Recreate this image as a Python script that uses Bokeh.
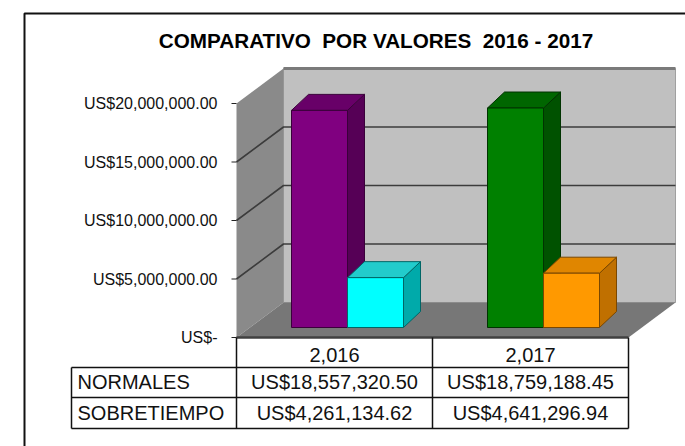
from bokeh.plotting import figure
from bokeh.models import Range1d, ColumnDataSource
from bokeh.core.properties import value
from bokeh.embed import file_html
from bokeh.resources import INLINE

# ---------------- data ----------------
title = "COMPARATIVO \u00a0POR VALORES \u00a02016 - 2017"
years = ["2,016", "2,017"]
series_names = ["NORMALES", "SOBRETIEMPO"]
normales = [18557320.50, 18759188.45]
sobretiempo = [4261134.62, 4641296.94]
normales_txt = ["US$18,557,320.50", "US$18,759,188.45"]
sobretiempo_txt = ["US$4,261,134.62", "US$4,641,296.94"]
ticks = [0, 5000000, 10000000, 15000000, 20000000]
tick_labels = ["US$-", "US$5,000,000.00", "US$10,000,000.00",
               "US$15,000,000.00", "US$20,000,000.00"]

# colours per bar (year, series): front, top, side, outline
bar_styles = [
    [("#800080", "#680068", "#560056", "#3a003a"),
     ("#00ffff", "#22cccc", "#00aaaa", "#006666")],
    [("#008000", "#006600", "#005200", "#003300"),
     ("#ff9900", "#e08600", "#c07000", "#7a4700")],
]

# ---------------- geometry (pixel styling) ----------------
W, H = 685, 446
AX0 = 236          # canvas x of category origin
CATW = 196         # px per category
Y0 = 337           # canvas y of value 0
PXM = 11.7         # px per million


def X(px):
    return px / CATW


def Y(px):
    return px / PXM * 1e6


p = figure(width=W, height=H, output_backend="svg", toolbar_location=None,
           x_range=Range1d(-AX0 / CATW, (W - AX0) / CATW),
           y_range=Range1d(-(H - Y0) / PXM * 1e6, Y0 / PXM * 1e6),
           min_border=0, x_axis_type=None, y_axis_type=None)
p.grid.visible = False
p.outline_line_color = None
p.background_fill_color = "white"
p.border_fill_color = "white"

ncat = len(years)
vmax = ticks[-1]
wdx, wdy = X(47), Y(35)

# walls
p.patch([wdx, ncat + wdx, ncat + wdx, wdx], [wdy, wdy, vmax + wdy, vmax + wdy],
        fill_color="#c0c0c0", line_color="#a0a0a0", line_width=1)
p.patch([0, wdx, wdx, 0], [0, wdy, vmax + wdy, vmax],
        fill_color="#8a8a8a", line_color=None)
p.patch([0, ncat, ncat + wdx, wdx], [0, 0, wdy, wdy],
        fill_color="#777777", line_color=None)

# gridlines
grid_xs, grid_ys = [], []
for v in ticks[1:-1]:
    grid_xs.append([0, wdx, ncat + wdx])
    grid_ys.append([v, v + wdy, v + wdy])
p.multi_line(grid_xs, grid_ys, line_color="#3c3c3c", line_width=1.6)
p.line([wdx, ncat + wdx], [vmax + wdy, vmax + wdy], line_color="#7a7a7a", line_width=3)

# floor front line
p.line([0, ncat], [0, 0], line_color="#404040", line_width=2.5)

# bars
bw = X(56)
fdx, fdy = X(13), Y(10)
bdx, bdy = X(17), Y(16)
values = [normales, sobretiempo]
xs, ys, fills, lines = [], [], [], []
for i in range(ncat):
    for j in range(len(values)):
        v = values[j][i]
        front, top, side, outline = bar_styles[i][j]
        xl = i + 0.5 - bw + j * bw + fdx
        xr = xl + bw
        yb = fdy
        yt = fdy + v
        # side
        xs.append([xr, xr + bdx, xr + bdx, xr]); ys.append([yb, yb + bdy, yt + bdy, yt])
        fills.append(side); lines.append(outline)
        # top
        xs.append([xl, xr, xr + bdx, xl + bdx]); ys.append([yt, yt, yt + bdy, yt + bdy])
        fills.append(top); lines.append(outline)
        # front
        xs.append([xl, xr, xr, xl]); ys.append([yb, yb, yt, yt])
        fills.append(front); lines.append(outline)
p.patches(xs="xs", ys="ys", fill_color="fills", line_color="lines", line_width=1,
          source=ColumnDataSource(dict(xs=xs, ys=ys, fills=fills, lines=lines)))

# y ticks and labels
p.segment(x0=[X(-5)] * len(ticks), y0=ticks, x1=[0] * len(ticks), y1=ticks,
          line_color="#222222", line_width=1.2)
p.text(x=[X(-19)] * len(ticks), y=ticks, text=tick_labels,
       text_font=value("Liberation Sans"), text_font_size="16px",
       text_align="right", text_baseline="middle", text_color="#111111")

# data table
h_head, h_row1, h_row2 = Y(-30), Y(-60), Y(-91)
lab_left = X(-165)
tbl_col = "#111111"
# header verticals
p.segment(x0=[i for i in range(ncat + 1)], y0=[0] * (ncat + 1),
          x1=[i for i in range(ncat + 1)], y1=[h_row2] * (ncat + 1),
          line_color=tbl_col, line_width=1.5)
# box
p.segment(x0=[lab_left, lab_left, lab_left, lab_left],
          y0=[h_head, h_row1, h_row2, h_head],
          x1=[ncat, ncat, ncat, lab_left],
          y1=[h_head, h_row1, h_row2, h_row2],
          line_color=tbl_col, line_width=1.5)
p.text(x=[i + 0.5 for i in range(ncat)], y=[Y(-17.5)] * ncat, text=years,
       text_font=value("Liberation Sans"), text_font_size="20px",
       text_align="center", text_baseline="middle", text_color="#111111")
p.text(x=[X(-159)] * 2, y=[Y(-44), Y(-75)], text=series_names,
       text_font=value("Liberation Sans"), text_font_size="20px",
       text_align="left", text_baseline="middle", text_color="#111111")
p.text(x=[i + 0.5 for i in range(ncat)], y=[Y(-44)] * ncat, text=normales_txt,
       text_font=value("Liberation Sans"), text_font_size="20px",
       text_align="center", text_baseline="middle", text_color="#111111")
p.text(x=[i + 0.5 for i in range(ncat)], y=[Y(-75)] * ncat, text=sobretiempo_txt,
       text_font=value("Liberation Sans"), text_font_size="20px",
       text_align="center", text_baseline="middle", text_color="#111111")

# title
p.text(x=[X(139.5)], y=[Y(297)], text=[title],
       text_font=value("Liberation Sans"), text_font_size="20.7px",
       text_font_style="bold", text_align="center", text_baseline="middle",
       text_color="#000000")

# chart frame (left and top edges visible)
fx, fy = X(-212), Y(324)
p.line([fx, fx, X(600)], [Y(-300), fy, fy], line_color="#111111", line_width=2)

open("out.html", "w").write(file_html(p, INLINE))
